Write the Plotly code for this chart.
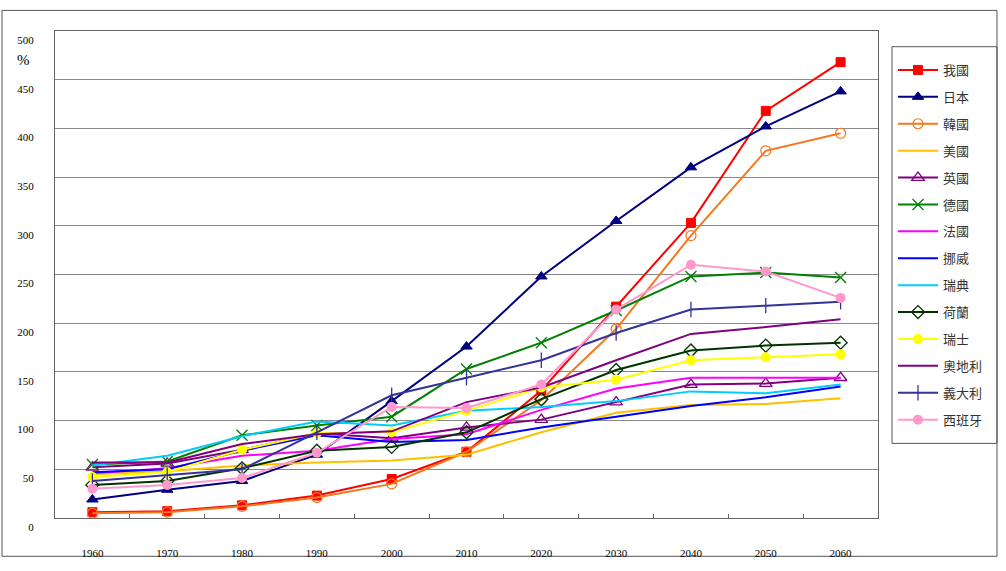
import plotly.graph_objects as go

years = ["1960", "1970", "1980", "1990", "2000", "2010", "2020", "2030", "2040", "2050", "2060"]

taiwan = [6, 7, 13, 23, 40, 68, 131, 217, 303, 418, 468]
japan = [19, 29, 38, 65, 120, 176, 248, 305, 360, 402, 438]
korea = [5, 6, 12, 21, 35, 68, 121, 194, 290, 377, 395]
usa = [45, 48, 54, 57, 59, 65, 88, 108, 116, 117, 123]
uk = [52, 56, 70, 87, 82, 93, 101, 119, 137, 138, 144]
germany = [55, 58, 85, 95, 104, 153, 180, 213, 248, 252, 247]
france = [46, 51, 64, 69, 81, 86, 111, 133, 144, 144, 144]
norway = [47, 50, 69, 85, 78, 80, 93, 104, 115, 124, 135]
sweden = [54, 64, 84, 99, 95, 110, 114, 120, 130, 128, 137]
netherlands = [34, 38, 51, 69, 73, 88, 122, 152, 172, 177, 180]
switzerland = [42, 47, 70, 87, 88, 110, 134, 142, 162, 165, 168]
austria = [57, 57, 76, 86, 89, 119, 134, 162, 189, 196, 204]
italy = [38, 44, 50, 88, 126, 144, 162, 190, 214, 218, 222]
spain = [30, 34, 41, 67, 114, 113, 137, 214, 260, 253, 226]

series = [
    ("我國", taiwan, "#FF0000", "square", 9, 1),
    ("日本", japan, "#000080", "triangle-up", 10, 1),
    ("韓國", korea, "#F5781E", "circle-open", 10, 1.2),
    ("美國", usa, "#FFC000", None, 0, 0),
    ("英國", uk, "#800080", "triangle-up-open", 11, 1.3),
    ("德國", germany, "#008000", "x-thin-open", 11, 1.3),
    ("法國", france, "#FF00FF", None, 0, 0),
    ("挪威", norway, "#0000FF", None, 0, 0),
    ("瑞典", sweden, "#00CCFF", None, 0, 0),
    ("荷蘭", netherlands, "#003300", "diamond-open", 10, 1.3),
    ("瑞士", switzerland, "#FFFF00", "circle", 10, 0),
    ("奧地利", austria, "#800080", None, 0, 0),
    ("義大利", italy, "#333399", "line-ns-open", 11, 1.3),
    ("西班牙", spain, "#FF99CC", "circle", 10, 0),
]

fig = go.Figure()
for name, vals, color, symbol, size, lw in series:
    if symbol is None:
        fig.add_trace(go.Scatter(
            x=years, y=vals, name=name, mode="lines", legendgroup=name,
            line=dict(color=color, width=2),
        ))
    else:
        fig.add_trace(go.Scatter(
            x=years, y=vals, name=name, mode="lines+markers", legendgroup=name,
            line=dict(color=color, width=2),
            marker=dict(symbol=symbol, size=size, color=color,
                        line=dict(color=color, width=lw)),
        ))

# plot area pixel geometry
L, R, T, B = 55, 878, 31, 527
W, H = 1006, 571
pw, ph = R - L, B - T

def px_x(x):
    return (x - L) / pw

def px_y(y):
    return (B - y) / ph

# outer chart frame
fig.add_shape(type="rect", xref="paper", yref="paper",
              x0=px_x(2), x1=px_x(997), y0=px_y(566), y1=px_y(10),
              line=dict(color="#555555", width=1), fillcolor="rgba(0,0,0,0)",
              layer="below")
# legend frame
fig.add_shape(type="rect", xref="paper", yref="paper",
              x0=px_x(892), x1=px_x(997), y0=px_y(451), y1=px_y(47),
              line=dict(color="#555555", width=1), fillcolor="rgba(0,0,0,0)",
              layer="below")

fig.add_annotation(text="%", xref="paper", yref="paper", x=px_x(23), y=px_y(61),
                   xanchor="center", yanchor="middle",
                   showarrow=False, font=dict(family="Liberation Serif", size=15, color="#000"))

fig.update_layout(
    width=W, height=H,
    margin=dict(l=L, r=W - R, t=T, b=H - B, pad=0),
    paper_bgcolor="white", plot_bgcolor="white",
    font=dict(family="Liberation Serif", size=11, color="#000"),
    showlegend=True,
    legend=dict(
        xref="container", yref="container",
        x=893 / W, y=1 - 55 / H, xanchor="left", yanchor="top",
        borderwidth=0, bgcolor="rgba(0,0,0,0)",
        font=dict(family="Noto Sans CJK TC", size=13, color="#333"),
        itemwidth=40, tracegroupgap=7, traceorder="grouped",
        maxheight=460,
    ),
    xaxis=dict(
        type="category", tickson="boundaries", ticks="inside", ticklen=4,
        tickcolor="#666", showline=True, linecolor="#666", linewidth=1,
        mirror=True, showgrid=False, ticklabelstandoff=25,
        tickfont=dict(family="Liberation Serif", size=11),
        range=[-0.5, 10.5],
    ),
    yaxis=dict(
        range=[0, 500], dtick=50, tick0=0, showgrid=True, gridcolor="#888",
        gridwidth=1, showline=True, linecolor="#666", linewidth=1, mirror=True,
        ticks="", ticklabelstandoff=18, ticklabelshift=9, zeroline=False,
        tickfont=dict(family="Liberation Serif", size=11),
    ),
)

fig.write_html("out.html")
